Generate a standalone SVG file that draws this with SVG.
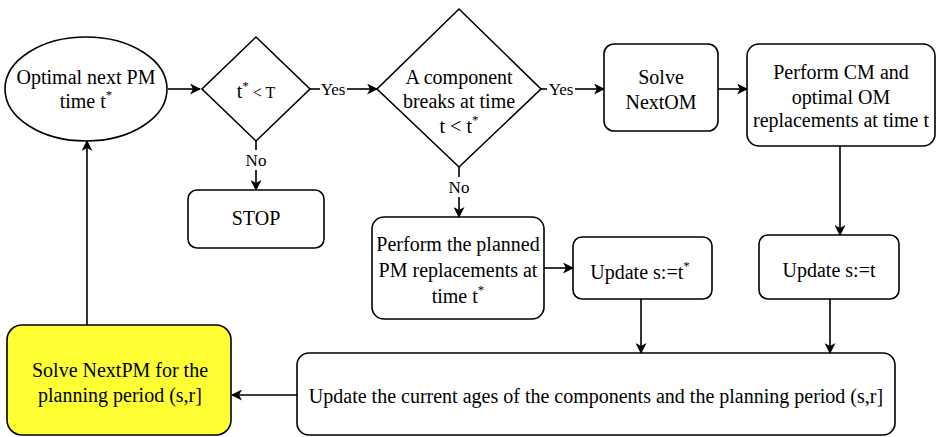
<svg xmlns="http://www.w3.org/2000/svg" width="941" height="437" viewBox="0 0 941 437">
<defs>
<marker id="ah" markerWidth="11" markerHeight="11" refX="10" refY="5.5" orient="auto" markerUnits="userSpaceOnUse">
<path d="M0,0 L11,5.5 L0,11 L3,5.5 Z" fill="#000"/>
</marker>
</defs>
<style>
.n{fill:#fff;stroke:#000;stroke-width:1.6}
.y{fill:#ffff33;stroke:#000;stroke-width:1.6}
.t{font-family:"Liberation Serif","Times New Roman",serif;font-size:20px;fill:#000;text-anchor:middle}
.s{font-size:13px}
.c{fill:none;stroke:#000;stroke-width:1.6}
.l{font-family:"Liberation Serif","Times New Roman",serif;font-size:17px;fill:#000;text-anchor:middle}
</style>
<rect width="941" height="437" fill="#fff"/>
<g id="connectors">
<line class="c" x1="168" y1="89" x2="200" y2="89" marker-end="url(#ah)"/>
<line class="c" x1="310" y1="89" x2="320" y2="89"/>
<line class="c" x1="347" y1="89" x2="377" y2="89" marker-end="url(#ah)"/>
<line class="c" x1="541" y1="89" x2="547" y2="89"/>
<line class="c" x1="575" y1="89" x2="604" y2="89" marker-end="url(#ah)"/>
<line class="c" x1="718" y1="89" x2="747" y2="89" marker-end="url(#ah)"/>
<line class="c" x1="840" y1="146" x2="840" y2="235" marker-end="url(#ah)"/>
<line class="c" x1="256" y1="141" x2="256" y2="150"/>
<line class="c" x1="256" y1="170" x2="256" y2="190" marker-end="url(#ah)"/>
<line class="c" x1="459" y1="167" x2="459" y2="177"/>
<line class="c" x1="459" y1="197" x2="459" y2="217" marker-end="url(#ah)"/>
<line class="c" x1="544" y1="268" x2="573" y2="268" marker-end="url(#ah)"/>
<line class="c" x1="641" y1="299" x2="641" y2="353" marker-end="url(#ah)"/>
<line class="c" x1="830" y1="299" x2="830" y2="353" marker-end="url(#ah)"/>
<line class="c" x1="297" y1="395" x2="232" y2="395" marker-end="url(#ah)"/>
<line class="c" x1="87" y1="325" x2="87" y2="141" marker-end="url(#ah)"/>
<text class="l" x="333" y="95">Yes</text>
<text class="l" x="561" y="95">Yes</text>
<text class="l" x="256" y="166">No</text>
<text class="l" x="459" y="193">No</text>
</g>
<g id="start">
<ellipse class="n" cx="86" cy="89" rx="81" ry="52"/>
<text class="t" x="86" y="84">Optimal next PM</text>
<text class="t" x="86" y="108">time t<tspan class="s" dy="-9">*</tspan></text>
</g>
<g id="d1">
<polygon class="n" points="256,37 310,89 256,141 202,89"/>
<text class="t" x="256" y="98" font-size="18">t<tspan class="s" dy="-8">*</tspan><tspan dy="8" font-size="16"> &lt; T</tspan></text>
</g>
<g id="d2">
<polygon class="n" points="459,9 541,89 459,167 377,89"/>
<text class="t" x="459" y="84">A component</text>
<text class="t" x="459" y="108">breaks at time</text>
<text class="t" x="459" y="133">t &lt; t<tspan class="s" dy="-9">*</tspan></text>
</g>
<g id="nextom">
<rect class="n" x="604" y="44" width="114" height="87" rx="10"/>
<text class="t" x="661" y="84">Solve</text>
<text class="t" x="661" y="109">NextOM</text>
</g>
<g id="cm">
<rect class="n" x="747" y="44" width="188" height="102" rx="12"/>
<text class="t" x="841" y="79">Perform CM and</text>
<text class="t" x="841" y="104">optimal OM</text>
<text class="t" x="841" y="127">replacements at time t</text>
</g>
<g id="stop">
<rect class="n" x="188" y="190" width="136" height="58" rx="9"/>
<text class="t" x="256" y="225">STOP</text>
</g>
<g id="pm">
<rect class="n" x="372" y="217" width="172" height="102" rx="12"/>
<text class="t" x="458" y="251">Perform the planned</text>
<text class="t" x="458" y="277">PM replacements at</text>
<text class="t" x="458" y="303">time t<tspan class="s" dy="-9">*</tspan></text>
</g>
<g id="upd1">
<rect class="n" x="573" y="237" width="139" height="62" rx="9"/>
<text class="t" x="640" y="279">Update s:=t<tspan class="s" dy="-9">*</tspan></text>
</g>
<g id="upd2">
<rect class="n" x="759" y="235" width="140" height="64" rx="9"/>
<text class="t" x="829" y="277">Update s:=t</text>
</g>
<g id="upd3">
<rect class="n" x="297" y="353" width="598" height="82" rx="12"/>
<text class="t" x="596" y="403">Update the current ages of the components and the planning period (s,r]</text>
</g>
<g id="nextpm">
<rect class="y" x="7" y="325" width="224" height="110" rx="15"/>
<text class="t" x="120" y="377">Solve NextPM for the</text>
<text class="t" x="120" y="402">planning period (s,r]</text>
</g>
</svg>
